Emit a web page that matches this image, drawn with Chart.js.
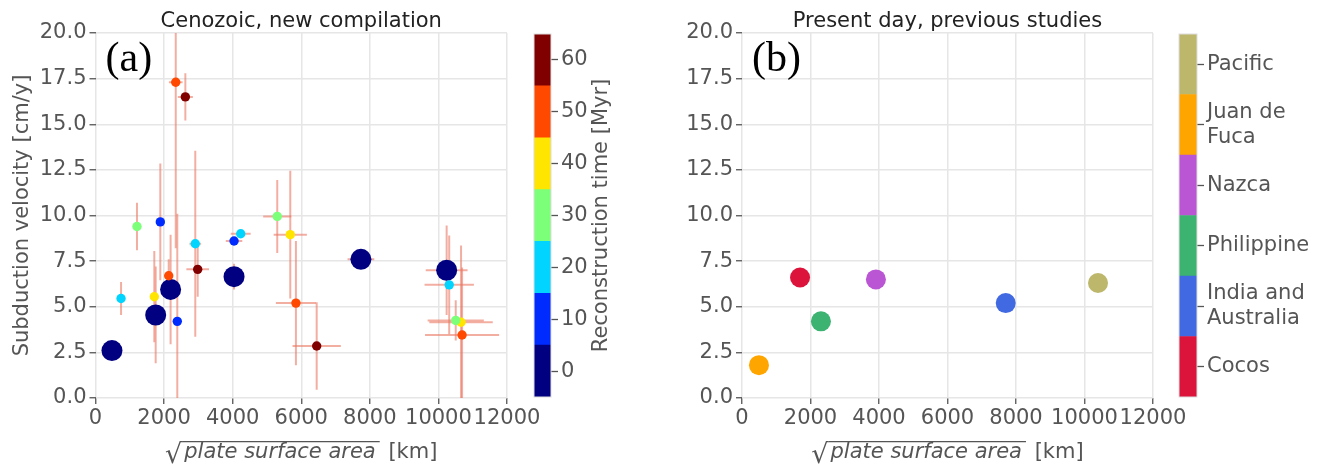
<!DOCTYPE html>
<html>
<head>
<meta charset="utf-8">
<script src="https://cdn.jsdelivr.net/npm/chart.js@4.4.0/dist/chart.umd.min.js"></script>
<style>
  html, body { margin: 0; padding: 0; background: #fff; }
  #wrap { position: relative; width: 1322px; height: 466px; }
  #wrap canvas { position: absolute; left: 0; top: 0; }
</style>
</head>
<body>
<div id="wrap">
  <canvas id="panelA" width="1322" height="466"></canvas>
  <canvas id="barA" width="1322" height="466"></canvas>
  <canvas id="panelB" width="1322" height="466"></canvas>
  <canvas id="barB" width="1322" height="466"></canvas>
</div>
<script>
// (a) Cenozoic, new compilation
const areaA        = [480, 1755, 2190, 4040, 7740, 10240, 2620, 2980, 6450, 2135, 2340, 5845, 10690, 1715, 5680, 10660, 1210, 5300, 10505, 745, 2910, 4235, 10315, 1890, 2385, 4040];
const velocityA    = [2.6, 4.55, 5.95, 6.65, 7.6, 7.0, 16.5, 7.05, 2.85, 6.7, 17.3, 5.2, 3.45, 5.55, 8.95, 4.15, 9.4, 9.95, 4.25, 5.45, 8.45, 9.0, 6.2, 9.65, 4.2, 8.6];
const areaErrA     = [0, 0, 0, 0, 390, 610, 220, 330, 705, 120, 200, 585, 1080, 0, 485, 925, 0, 410, 820, 0, 170, 290, 720, 0, 0, 240];
const velocityErrA = [0, 2.65, 3.0, 0.7, 0, 2.45, 1.3, 1.5, 2.4, 0.9, 9.1, 3.4, 3.7, 2.5, 3.5, 4.2, 1.3, 2.0, 1.1, 0.9, 5.1, 0, 2.7, 3.2, 5.9, 0];
const timeA        = [0, 0, 0, 0, 0, 0, 60, 60, 60, 50, 50, 50, 50, 40, 40, 40, 30, 30, 30, 20, 20, 20, 20, 10, 10, 10];

// colour bar (a)
const timeLevels = [0, 10, 20, 30, 40, 50, 60];
const jetColors = ['#000080', '#002bff', '#00d4ff', '#7cff79', '#ffe500', '#ff4800', '#800000'];

// (b) Present day, previous studies
const plateLabels = [['Cocos'], ['India and', 'Australia'], ['Philippine'], ['Nazca'], ['Juan de', 'Fuca'], ['Pacific']];
const areaB     = [1695, 7700, 2305, 3910, 495, 10395];
const velocityB = [6.6, 5.2, 4.2, 6.5, 1.8, 6.3];
const plateColors = ['#dc143c', '#4169e1', '#3cb371', '#ba55d3', '#ffa500', '#bdb76b'];

const xTicks = [0, 2000, 4000, 6000, 8000, 10000, 12000];
const yTicks = [0, 2.5, 5, 7.5, 10, 12.5, 15, 17.5, 20];

Chart.defaults.font.family = '"DejaVu Sans"';
Chart.defaults.font.size = 21;
Chart.defaults.color = '#555';

const W = 1322;

// titles, panel letters and the sqrt x-axis label
const panelText = {
  id: 'panelText',
  afterDraw(chart, args, opts) {
    const { ctx, chartArea: a } = chart;
    const cx = (a.left + a.right) / 2;
    ctx.save();
    ctx.fillStyle = '#222';
    ctx.font = '21px "DejaVu Sans"';
    ctx.textAlign = 'center';
    ctx.textBaseline = 'alphabetic';
    ctx.fillText(opts.title, cx, 26.5);

    ctx.fillStyle = '#000';
    ctx.font = '42px "Liberation Serif"';
    ctx.textAlign = 'left';
    ctx.fillText(opts.letter, a.left + 10, 71);

    // √(plate surface area) [km]
    const base = 458;
    ctx.fillStyle = '#555';
    ctx.font = '27px "DejaVu Sans"';
    const rad = ctx.measureText('\u221A');
    ctx.font = 'italic 21px "DejaVu Sans"';
    const itW = ctx.measureText('plate surface area').width;
    ctx.font = '21px "DejaVu Sans"';
    const kmW = ctx.measureText(' [km]').width;
    const total = rad.width + 2 + itW + 6 + kmW;
    let x0 = cx - total / 2;
    ctx.font = '27px "DejaVu Sans"';
    ctx.fillText('\u221A', x0, base + 5);
    const topY = base + 5 - rad.actualBoundingBoxAscent;
    const radRight = x0 + rad.actualBoundingBoxRight;
    x0 += rad.width + 2;
    ctx.font = 'italic 21px "DejaVu Sans"';
    ctx.fillText('plate surface area', x0, base);
    ctx.strokeStyle = '#555';
    ctx.lineWidth = 1.3;
    ctx.beginPath();
    ctx.moveTo(radRight - 1, topY + 0.7);
    ctx.lineTo(x0 + itW + 4, topY + 0.7);
    ctx.stroke();
    x0 += itW + 6;
    ctx.font = '21px "DejaVu Sans"';
    ctx.fillText(' [km]', x0, base);
    ctx.restore();
  }
};

const errorBars = {
  id: 'errorBars',
  beforeDatasetsDraw(chart) {
    const { ctx, chartArea: a, scales: { x, y } } = chart;
    ctx.save();
    ctx.beginPath();
    ctx.rect(a.left, a.top, a.right - a.left, a.bottom - a.top);
    ctx.clip();
    ctx.strokeStyle = 'rgba(235, 120, 100, 0.6)';
    ctx.lineWidth = 2;
    areaA.forEach((v, i) => {
      const px = x.getPixelForValue(v);
      const py = y.getPixelForValue(velocityA[i]);
      ctx.beginPath();
      if (areaErrA[i] > 0) {
        ctx.moveTo(x.getPixelForValue(v - areaErrA[i]), py);
        ctx.lineTo(x.getPixelForValue(v + areaErrA[i]), py);
      }
      if (velocityErrA[i] > 0) {
        ctx.moveTo(px, y.getPixelForValue(velocityA[i] - velocityErrA[i]));
        ctx.lineTo(px, y.getPixelForValue(velocityA[i] + velocityErrA[i]));
      }
      ctx.stroke();
    });
    ctx.restore();
  }
};

function scatterOptions(left, right, yTitle) {
  const padLeft = Math.max(0, left - 100);
  return {
    responsive: false,
    animation: false,
    layout: { padding: { left: padLeft, top: 33, right: W - right, bottom: 0 } },
    plugins: { legend: { display: false }, tooltip: { enabled: false } },
    scales: {
      x: {
        type: 'linear', min: 0, max: 12000,
        afterBuildTicks: s => { s.ticks = xTicks.map(v => ({ value: v })); },
        afterFit: s => { s.height = 68; },
        ticks: { callback: v => String(v), maxRotation: 0, autoSkip: false, padding: 2 },
        grid: { color: '#e6e6e6', lineWidth: 1.5, tickColor: '#555', tickLength: 6, tickWidth: 1.3 },
        border: { display: false }
      },
      y: {
        type: 'linear', min: 0, max: 20,
        afterBuildTicks: s => { s.ticks = yTicks.map(v => ({ value: v })); },
        afterFit: s => { s.width = left - padLeft; },
        ticks: { callback: v => v.toFixed(1), padding: 3 },
        grid: { color: '#e6e6e6', lineWidth: 1.5, tickColor: '#555', tickLength: 6, tickWidth: 1.3 },
        border: { display: false },
        title: { display: !!yTitle, text: yTitle || '', color: '#555', padding: { top: 10, bottom: 0 } }
      }
    }
  };
}

// panel (a)
const optsA = scatterOptions(95.5, 507, 'Subduction velocity [cm/y]');
optsA.plugins.panelText = { title: 'Cenozoic, new compilation', letter: '(a)' };
new Chart(document.getElementById('panelA'), {
  type: 'scatter',
  data: {
    datasets: [{
      data: areaA.map((v, i) => ({ x: v, y: velocityA[i] })),
      backgroundColor: c => jetColors[timeLevels.indexOf(timeA[c.dataIndex])],
      pointRadius: c => timeA[c.dataIndex] === 0 ? 10.5 : 4.7,
      borderWidth: 0
    }]
  },
  options: optsA,
  plugins: [errorBars, panelText]
});

// panel (b)
const optsB = scatterOptions(742, 1153, '');
optsB.plugins.panelText = { title: 'Present day, previous studies', letter: '(b)' };
new Chart(document.getElementById('panelB'), {
  type: 'scatter',
  data: {
    datasets: [{
      data: areaB.map((v, i) => ({ x: v, y: velocityB[i] })),
      backgroundColor: plateColors,
      pointRadius: 10,
      borderWidth: 0
    }]
  },
  options: optsB,
  plugins: [panelText]
});

// colour bars
const barFrame = {
  id: 'barFrame',
  afterDraw(chart, args, opts) {
    const { ctx, chartArea: a } = chart;
    ctx.save();
    ctx.strokeStyle = '#dddddd';
    ctx.lineWidth = 1;
    ctx.strokeRect(a.left, a.top, a.right - a.left, a.bottom - a.top);
    if (opts.label) {
      ctx.translate(opts.labelX, (a.top + a.bottom) / 2);
      ctx.rotate(-Math.PI / 2);
      ctx.fillStyle = '#555';
      ctx.font = '21px "DejaVu Sans"';
      ctx.textAlign = 'center';
      ctx.textBaseline = 'middle';
      ctx.fillText(opts.label, 0, 0);
    }
    ctx.restore();
  }
};

function colorBar(id, left, right, axisWidth, lo, hi, ticks, colors, tickText, label, labelX) {
  new Chart(document.getElementById(id), {
    type: 'bar',
    data: {
      labels: [''],
      datasets: ticks.map((t, i) => ({
        data: [[t - (ticks[1] - ticks[0]) / 2, t + (ticks[1] - ticks[0]) / 2]],
        backgroundColor: colors[i],
        borderWidth: 0,
        grouped: false,
        barPercentage: 1,
        categoryPercentage: 1
      }))
    },
    options: {
      responsive: false,
      animation: false,
      layout: { padding: { left: left, top: 34, right: W - right - axisWidth, bottom: 69 } },
      plugins: { legend: { display: false }, tooltip: { enabled: false }, barFrame: { label: label, labelX: labelX } },
      scales: {
        x: { display: false },
        y: {
          position: 'right', min: lo, max: hi,
          afterBuildTicks: s => { s.ticks = ticks.map(v => ({ value: v })); },
          afterFit: s => { s.width = axisWidth; },
          ticks: { callback: tickText, padding: 3 },
          grid: { drawOnChartArea: false, tickColor: '#555', tickLength: 7, tickWidth: 1.3 },
          border: { display: false }
        }
      }
    },
    plugins: [barFrame]
  });
}

colorBar('barA', 534, 551, 80, -5, 65, timeLevels, jetColors, v => String(v), 'Reconstruction time [Myr]', 602);
colorBar('barB', 1179, 1197, 125, -0.5, 5.5, plateLabels.map((p, i) => i), plateColors, (v, i) => plateLabels[i], '', 0);
</script>
</body>
</html>
